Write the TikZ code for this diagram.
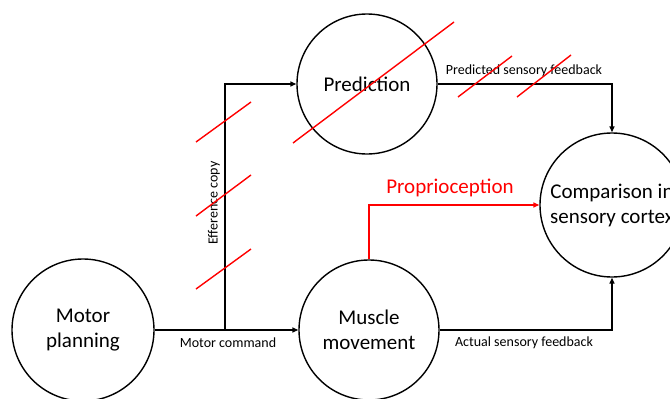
\documentclass[tikz,border=0pt]{standalone}
\usepackage{fontspec}
\setmainfont{Carlito}
\usetikzlibrary{arrows.meta}

\begin{document}
\begin{tikzpicture}[x=1pt,y=-1pt,line width=1.4pt,
  arr/.style={-{Triangle[length=6pt,width=5pt]}},
  blob/.style={draw,circle,inner sep=0pt,align=center,font=\fontsize{21}{25}\selectfont},
  lbl/.style={font=\fontsize{14}{17}\selectfont},
  cut/.style={red,line width=1.4pt}]
\useasboundingbox (0,0) rectangle (670,399);

% circles
\node[blob,minimum size=142pt] (plan) at (83,330) {Motor\\planning};
\node[blob,minimum size=140pt] (muscle) at (369,330) {Muscle\\movement};
\node[blob,minimum size=140pt] (pred) at (367,84) {Prediction};
\node[blob,minimum size=144pt] (comp) at (612,205) {Comparison in\\sensory cortex};

% connectors
\coordinate (eff) at (225,330);
\draw[arr] (plan) -- (muscle);
\draw[arr] (eff) |- (pred.west);
\draw[arr] (pred.east) -| (comp.north);
\draw[arr] (muscle.east) -| (comp.south);
\draw[arr,red] (muscle.north) |- (comp.west);

% labels
\node[lbl] (mcmd) at (228,343) {Motor command};
\node[lbl,rotate=90] (ecopy) at (214,203) {Efference copy};
\node[lbl] (psf) at (524,71) {Predicted sensory feedback};
\node[lbl] (asf) at (524,343) {Actual sensory feedback};
\node[red,font=\fontsize{21}{25}\selectfont] (prop) at (450,188) {Proprioception};

% red strikes
\draw[cut] (293,143) -- (454,22);
\draw[cut] (458,97) -- (512,56);
\draw[cut] (517,97) -- (571,55);
\draw[cut] (196,142) -- (251,102);
\draw[cut] (196,216) -- (251,175);
\draw[cut] (196,289) -- (251,249);
\end{tikzpicture}
\end{document}
